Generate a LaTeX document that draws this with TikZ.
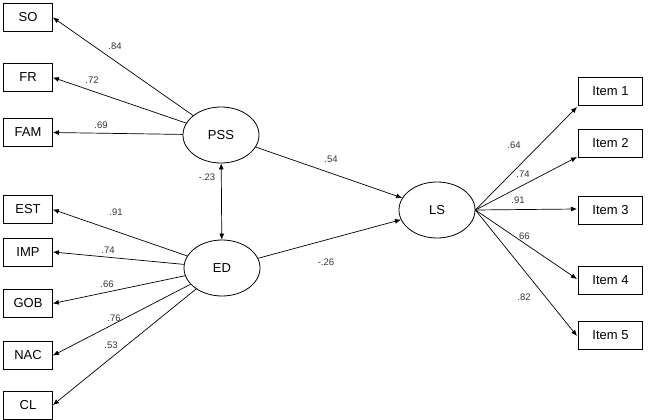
\documentclass[tikz,border=0pt]{standalone}
\usepackage{fontspec}
\setmainfont{Liberation Sans}
\usetikzlibrary{shapes.geometric,arrows.meta}
\begin{document}
\begin{tikzpicture}[x=1pt,y=-1pt,
 box/.style={draw,line width=0.8pt,minimum width=49pt,minimum height=28pt,font=\fontsize{13}{13}\selectfont,inner sep=0pt},
 ibox/.style={box,minimum width=64pt},
 lat/.style={draw,ellipse,line width=0.8pt,minimum width=76pt,minimum height=56pt,font=\fontsize{13}{13}\selectfont,inner sep=0pt},
 arr/.style={-{Latex[length=6pt,width=5pt]},line width=0.7pt},
 lab/.style={font=\fontsize{9.5}{9.5}\selectfont,inner sep=0pt,text=black!80}]
\useasboundingbox (0,0) rectangle (649,420);
\node[box] (SO) at (28,17.5) {SO};
\node[box] (FR) at (28,77.5) {FR};
\node[box] (FAM) at (28,132.5) {FAM};
\node[box] (EST) at (28,209.5) {EST};
\node[box] (IMP) at (28,252) {IMP};
\node[box] (GOB) at (28,303.5) {GOB};
\node[box] (NAC) at (28,355.5) {NAC};
\node[box] (CL) at (28,405) {CL};
\node[lat] (PSS) at (221,135) {PSS};
\node[lat] (ED) at (222,268) {ED};
\node[lat] (LS) at (437,210) {LS};
\node[ibox] (I1) at (610.5,91) {Item 1};
\node[ibox] (I2) at (610.5,143.5) {Item 2};
\node[ibox] (I3) at (610.5,210.5) {Item 3};
\node[ibox] (I4) at (610.5,280) {Item 4};
\node[ibox] (I5) at (610.5,335.5) {Item 5};
\coordinate (e1) at (577,107);
\coordinate (e2) at (577,157);
\coordinate (e3) at (577,209);
\coordinate (e4) at (577,279);
\coordinate (e5) at (577,336);
\foreach \b in {SO,FR,FAM} \draw[arr] (PSS) -- (\b.east);
\foreach \b in {EST,IMP,GOB,NAC,CL} \draw[arr] (ED) -- (\b.east);
\foreach \b in {e1,e2,e3,e4,e5} \draw[arr] (LS.east) -- (\b);
\draw[arr] (PSS) -- (LS);
\draw[arr] (ED) -- (LS);
\draw[arr,{Latex[length=6pt,width=5pt]}-{Latex[length=6pt,width=5pt]}] (PSS) -- (ED);
\node[lab] (l1) at (115,46) {.84};
\node[lab] (l2) at (92,80) {.72};
\node[lab] (l3) at (101,125) {.69};
\node[lab] (l4) at (331,159) {.54};
\node[lab] (l5) at (207,177) {-.23};
\node[lab] (l6) at (116,212) {.91};
\node[lab] (l7) at (108,250) {.74};
\node[lab] (l8) at (107,284) {.66};
\node[lab] (l9) at (114,318) {.76};
\node[lab] (l10) at (111,345) {.53};
\node[lab] (l11) at (326,262) {-.26};
\node[lab] (l12) at (514,145) {.64};
\node[lab] (l13) at (523,174) {.74};
\node[lab] (l14) at (518,200) {.91};
\node[lab] (l15) at (523,236) {.66};
\node[lab] (l16) at (524,297) {.82};
\end{tikzpicture}
\end{document}
